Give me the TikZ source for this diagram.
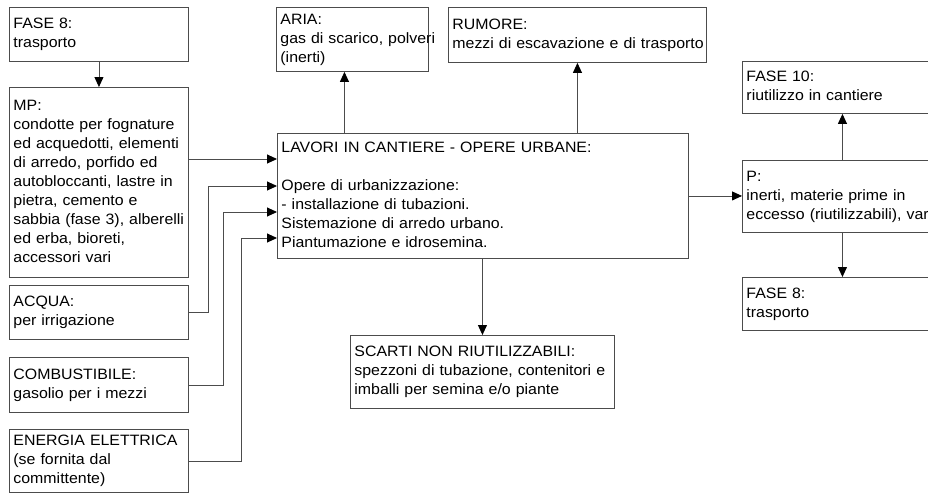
\documentclass[tikz,border=0pt]{standalone}
\usepackage{fontspec}
\setmainfont{Liberation Sans}[FakeStretch=1.06]
\usetikzlibrary{arrows.meta, positioning}
\tikzstyle{block} = [rectangle, draw=black!70, line width=0.9pt, anchor=north west, inner xsep=4pt, inner ysep=0pt, align=left]
\tikzstyle{arrow} = [draw=black!70, line width=0.9pt, -{Triangle[length=10pt,width=9pt,color=black]}]
\newcommand{\rows}[1]{\begin{tabular}{@{}l@{}}#1\end{tabular}}

\begin{document}
\begin{tikzpicture}[x=1pt, y=-1pt, font=\fontsize{15}{19}\selectfont]
	\useasboundingbox (0,0) rectangle (928,493);
	\clip (0,0) rectangle (928,493);

	\node (fasea) [block, text width=171pt, minimum height=54pt] at (9,7) {\rows{FASE 8:\\trasporto}};
	\node (mp) [block, text width=171pt, minimum height=190pt] at (9,87) {\rows{MP:\\condotte per fognature\\ed acquedotti, elementi\\di arredo, porfido ed\\autobloccanti, lastre in\\pietra, cemento e\\sabbia (fase 3), alberelli\\ed erba, bioreti,\\accessori vari}};
	\node (acqua) [block, text width=171pt, minimum height=54pt] at (9,285) {\rows{ACQUA:\\per irrigazione}};
	\node (comb) [block, text width=171pt, minimum height=55pt] at (9,357) {\rows{COMBUSTIBILE:\\gasolio per i mezzi}};
	\node (energia) [block, text width=171pt, minimum height=63pt] at (9,429) {\rows{ENERGIA ELETTRICA\\(se fornita dal\\committente)}};

	\node (aria) [block, text width=144pt, minimum height=64pt] at (276,7) {\rows{ARIA:\\gas di scarico, polveri\\(inerti)}};
	\node (rumore) [block, text width=250pt, minimum height=55pt] at (448,7) {\rows{RUMORE:\\mezzi di escavazione e di trasporto}};
	\node (lavori) [block, text width=403pt, minimum height=125pt] at (277,133) {\rows{LAVORI IN CANTIERE - OPERE URBANE:\\ \\Opere di urbanizzazione:\\- installazione di tubazioni.\\Sistemazione di arredo urbano.\\Piantumazione e idrosemina.}};
	\node (scarti) [block, text width=256pt, minimum height=73pt] at (350,335) {\rows{SCARTI NON RIUTILIZZABILI:\\spezzoni di tubazione, contenitori e\\imballi per semina e/o piante}};

	\node (fasedieci) [block, text width=192pt, minimum height=52pt] at (742,61) {\rows{FASE 10:\\riutilizzo in cantiere}};
	\node (p) [block, text width=192pt, minimum height=72pt] at (742,160) {\rows{P:\\inerti, materie prime in\\eccesso (riutilizzabili), vari}};
	\node (faseb) [block, text width=192pt, minimum height=53pt] at (742,277) {\rows{FASE 8:\\trasporto}};

	% entry points on the left side of the work box
	\coordinate (in1) at ([yshift=-26pt]lavori.north west);
	\coordinate (in2) at ([yshift=-53pt]lavori.north west);
	\coordinate (in3) at ([yshift=-79pt]lavori.north west);
	\coordinate (in4) at ([yshift=-105pt]lavori.north west);

	\draw [arrow] (fasea) -- (mp);
	\draw [arrow] (mp.east |- in1) -- (in1);
	\draw [arrow] (acqua.east) -- ++(20,0) |- (in2);
	\draw [arrow] (comb.east) -- ++(35,0) |- (in3);
	\draw [arrow] (energia.east) -- ++(53,0) |- (in4);

	\draw [arrow] ([xshift=-8pt]aria.south |- lavori.north) -- ([xshift=-8pt]aria.south);
	\draw [arrow] (lavori.north -| rumore) -- (rumore.south);
	\draw [arrow] (lavori.south -| scarti) -- (scarti.north);
	\draw [arrow] (lavori.east) -- (p.west |- lavori.east);

	\draw [arrow] (p) -- (fasedieci);
	\draw [arrow] (p) -- (faseb);

\end{tikzpicture}
\end{document}
